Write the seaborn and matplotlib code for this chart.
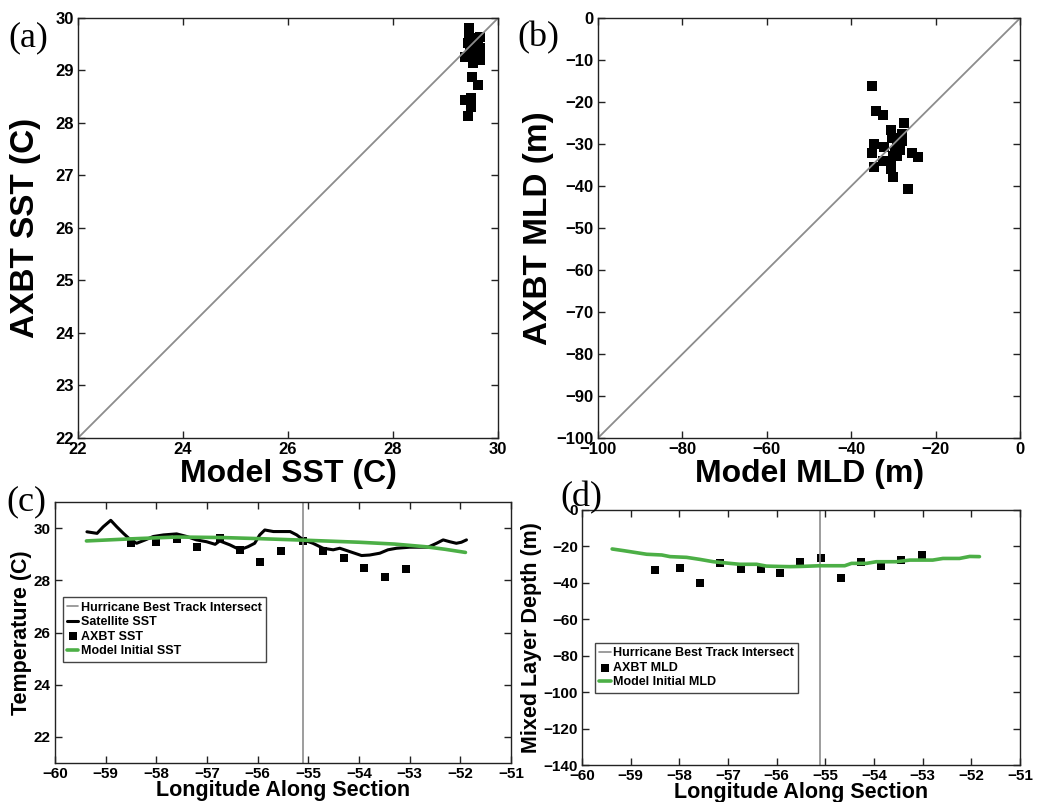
import numpy as np
import pandas as pd
import matplotlib
matplotlib.use("Agg")
import matplotlib.pyplot as plt
import seaborn as sns

# ---------------- data ----------------
# (a) SST scatter
sst_model = [29.45, 29.45, 29.48, 29.59, 29.66, 29.43, 29.53, 29.62, 29.47, 29.57, 29.66,
             29.37, 29.50, 29.66, 29.53, 29.66, 29.50, 29.61, 29.37, 29.48, 29.48, 29.42]
sst_axbt = [29.80, 29.71, 29.61, 29.61, 29.64, 29.52, 29.52, 29.52, 29.42, 29.42, 29.42,
            29.26, 29.26, 29.26, 29.14, 29.20, 28.88, 28.72, 28.44, 28.47, 28.31, 28.13]
sst_diag = [22, 30]

# (b) MLD scatter
mld_model = [-35.1, -34.2, -32.6, -27.5, -30.6, -28.0, -30.4, -29.1, -28.0, -34.6, -32.2, -29.1,
             -29.6, -28.4, -35.1, -25.7, -24.1, -30.2, -29.1, -32.6, -34.6, -30.6, -30.6, -30.2, -26.6]
mld_axbt = [-16.1, -22.1, -23.1, -25.1, -26.7, -27.6, -28.6, -28.8, -29.4, -30.1, -30.8, -30.8,
            -31.8, -31.4, -32.2, -32.1, -33.2, -32.9, -32.9, -34.0, -35.4, -34.8, -36.0, -37.8, -40.7]
mld_diag = [-100, 0]

# (c) section temperature
sat_lon = [-59.37, -59.17, -59.05, -58.90, -58.78, -58.65, -58.51, -58.39, -58.22, -58.06, -57.86,
           -57.60, -57.40, -57.21, -57.01, -56.84, -56.75, -56.55, -56.35, -56.19, -56.06, -55.96,
           -55.86, -55.69, -55.36, -55.23, -55.10, -54.91, -54.71, -54.51, -54.38, -54.18, -53.95,
           -53.79, -53.59, -53.43, -53.26, -53.00, -52.64, -52.47, -52.34, -52.21, -52.08, -51.98, -51.88]
sat_sst = [29.86, 29.80, 30.05, 30.30, 30.05, 29.80, 29.55, 29.42, 29.55, 29.68, 29.74,
           29.78, 29.68, 29.55, 29.48, 29.38, 29.51, 29.36, 29.17, 29.29, 29.42, 29.74,
           29.93, 29.87, 29.87, 29.74, 29.55, 29.42, 29.23, 29.17, 29.23, 29.10, 28.95,
           28.97, 29.04, 29.17, 29.23, 29.27, 29.27, 29.42, 29.55, 29.48, 29.42, 29.46, 29.55]
model_lon_c = [-59.38, -58.5, -57.6, -56.7, -56.0, -55.1, -54.0, -53.3, -52.7, -52.3, -51.9]
model_sst = [29.51, 29.59, 29.66, 29.64, 29.60, 29.54, 29.46, 29.39, 29.29, 29.19, 29.07]
axbt_lon_c = [-58.51, -58.00, -57.59, -57.19, -56.75, -56.34, -55.96, -55.54, -55.11, -54.71,
              -54.30, -53.91, -53.49, -53.08]
axbt_sst = [29.44, 29.48, 29.59, 29.27, 29.61, 29.17, 28.72, 29.14, 29.51, 29.14,
            28.87, 28.46, 28.14, 28.42]

# (d) section mixed layer depth
model_lon_d = [-59.38, -59.15, -58.67, -58.36, -58.19, -57.85, -57.58, -57.30, -56.96, -56.76,
               -56.41, -56.21, -55.93, -55.73, -55.52, -55.11, -54.60, -54.46, -54.15, -53.95,
               -53.54, -53.26, -52.79, -52.58, -52.24, -52.03, -51.83]
model_mld = [-21.4, -22.3, -24.3, -24.7, -25.6, -26.0, -27.1, -28.4, -29.3, -29.8,
             -29.8, -30.8, -31.0, -31.1, -31.0, -30.6, -30.6, -29.3, -29.3, -28.4,
             -28.4, -27.5, -27.5, -26.6, -26.6, -25.5, -25.6]
axbt_lon_d = [-58.49, -57.99, -57.58, -57.17, -56.74, -56.31, -55.93, -55.52, -55.09, -54.67,
              -54.26, -53.86, -53.44, -53.02]
axbt_mld = [-32.9, -31.7, -40.3, -29.3, -32.4, -32.4, -34.4, -28.4, -26.2, -37.2,
            -28.4, -30.8, -27.5, -24.7]

track_lon = -55.1

sst_ticks_x = [22, 24, 26, 28, 30]
sst_ticks_y = [22, 23, 24, 25, 26, 27, 28, 29, 30]
mld_ticks_x = [-100, -80, -60, -40, -20, 0]
mld_ticks_y = [0, -10, -20, -30, -40, -50, -60, -70, -80, -90, -100]
lon_ticks = [-60, -59, -58, -57, -56, -55, -54, -53, -52, -51]
temp_ticks = [22, 24, 26, 28, 30]
depth_ticks = [0, -20, -40, -60, -80, -100, -120, -140]

# ---------------- style ----------------
sns.set_theme(style="ticks")
plt.rcParams["font.family"] = ["Liberation Sans", "DejaVu Sans"]
plt.rcParams["axes.edgecolor"] = "#222222"
plt.rcParams["axes.linewidth"] = 1.0
plt.rcParams["text.color"] = "black"
plt.rcParams["axes.labelcolor"] = "black"

GRAY = "#8c8c8c"
GREEN = "#4caf46"

fig = plt.figure(figsize=(10.4, 8.02), dpi=100)

def style_ax(ax, labelsize=12):
    ax.tick_params(direction="in", top=True, right=True, length=5, width=1,
                   labelsize=labelsize, colors="#222222", labelcolor="black", pad=3)
    for lab in ax.get_xticklabels() + ax.get_yticklabels():
        lab.set_fontweight("bold")
        lab.set_color("black")
    ax.grid(False)

# (a)
ax_a = fig.add_axes([0.075, 0.4539, 0.404, 0.5237])
sns.lineplot(x=sst_diag, y=sst_diag, ax=ax_a, color=GRAY, lw=1.3)
sns.scatterplot(x=sst_model, y=sst_axbt, ax=ax_a, marker="s", s=50, color="black",
                edgecolor="black", linewidth=0)
ax_a.set_xlim(22, 30); ax_a.set_ylim(22, 30)
ax_a.set_xticks(sst_ticks_x); ax_a.set_yticks(sst_ticks_y)
ax_a.set_xlabel("Model SST (C)", fontsize=23, fontweight="bold", labelpad=1)
ax_a.set_ylabel("AXBT SST (C)", fontsize=24, fontweight="bold", labelpad=10)
style_ax(ax_a)

# (b)
ax_b = fig.add_axes([0.575, 0.4539, 0.406, 0.5237])
sns.lineplot(x=mld_diag, y=mld_diag, ax=ax_b, color=GRAY, lw=1.3)
sns.scatterplot(x=mld_model, y=mld_axbt, ax=ax_b, marker="s", s=50, color="black",
                edgecolor="black", linewidth=0)
ax_b.set_xlim(-100, 0); ax_b.set_ylim(-100, 0)
ax_b.set_xticks(mld_ticks_x); ax_b.set_yticks(mld_ticks_y)
ax_b.set_xlabel("Model MLD (m)", fontsize=23, fontweight="bold", labelpad=1)
ax_b.set_ylabel("AXBT MLD (m)", fontsize=24, fontweight="bold", labelpad=2)
style_ax(ax_b)

# (c)
ax_c = fig.add_axes([0.0529, 0.0486, 0.4385, 0.3254])
ax_c.axvline(track_lon, color=GRAY, lw=1.2, label="Hurricane Best Track Intersect")
sns.lineplot(x=sat_lon, y=sat_sst, ax=ax_c, color="black", lw=2.2, sort=False,
             label="Satellite SST")
sns.scatterplot(x=axbt_lon_c, y=axbt_sst, ax=ax_c, marker="s", s=30, color="black",
                edgecolor="black", linewidth=0, label="AXBT SST")
sns.lineplot(x=model_lon_c, y=model_sst, ax=ax_c, color=GREEN, lw=2.6, sort=False,
             label="Model Initial SST")
ax_c.set_xlim(-60, -51); ax_c.set_ylim(21, 31)
ax_c.set_xticks(lon_ticks); ax_c.set_yticks(temp_ticks)
ax_c.set_xlabel("Longitude Along Section", fontsize=15.5, fontweight="bold", labelpad=-1)
ax_c.set_ylabel("Temperature (C)", fontsize=15.5, fontweight="bold", labelpad=1)
style_ax(ax_c, labelsize=11)
leg = ax_c.legend(loc="upper left", bbox_to_anchor=(0.017, 0.635), frameon=True,
                  fancybox=False, edgecolor="#444444", framealpha=1,
                  prop={"weight": "bold", "size": 9}, handlelength=0.9,
                  handletextpad=0.2, labelspacing=0.2, borderpad=0.35, borderaxespad=0,
                  markerscale=1.0)
leg.get_frame().set_linewidth(1.0)

# (d)
ax_d = fig.add_axes([0.5596, 0.0461, 0.421, 0.318])
ax_d.axvline(track_lon, color=GRAY, lw=1.2, label="Hurricane Best Track Intersect")
sns.scatterplot(x=axbt_lon_d, y=axbt_mld, ax=ax_d, marker="s", s=30, color="black",
                edgecolor="black", linewidth=0, label="AXBT MLD")
sns.lineplot(x=model_lon_d, y=model_mld, ax=ax_d, color=GREEN, lw=2.6, sort=False,
             label="Model Initial MLD")
ax_d.set_xlim(-60, -51); ax_d.set_ylim(-140, 0)
ax_d.set_xticks(lon_ticks); ax_d.set_yticks(depth_ticks)
ax_d.set_xlabel("Longitude Along Section", fontsize=15.5, fontweight="bold", labelpad=-1)
ax_d.set_ylabel("Mixed Layer Depth (m)", fontsize=15.5, fontweight="bold", labelpad=1)
style_ax(ax_d, labelsize=11)
leg = ax_d.legend(loc="upper left", bbox_to_anchor=(0.03, 0.478), frameon=True,
                  fancybox=False, edgecolor="#444444", framealpha=1,
                  prop={"weight": "bold", "size": 9}, handlelength=0.9,
                  handletextpad=0.2, labelspacing=0.2, borderpad=0.35, borderaxespad=0,
                  markerscale=1.0)
leg.get_frame().set_linewidth(1.0)

# panel letters
for lbl, x, y in [("(a)", 0.008, 0.953), ("(b)", 0.497, 0.953),
                  ("(c)", 0.006, 0.374), ("(d)", 0.539, 0.379)]:
    fig.text(x, y, lbl, fontsize=26, family=["Liberation Serif", "DejaVu Serif"], va="center")

fig.savefig("out.png", dpi=100)
